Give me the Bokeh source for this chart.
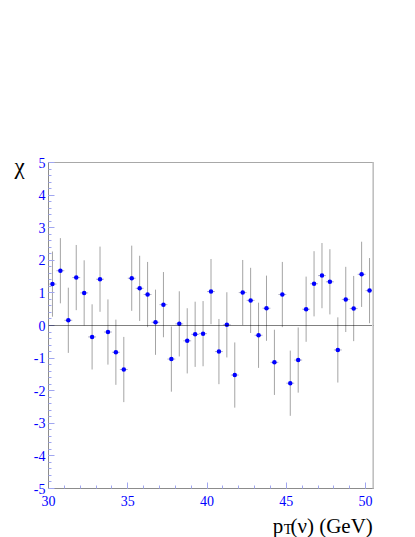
from bokeh.plotting import figure
from bokeh.models import Label, Span, FixedTicker, Range1d
from bokeh.embed import file_html
from bokeh.resources import INLINE

# bin centres (pT(nu), GeV)
x_vals = [30.25, 30.75, 31.25, 31.75, 32.25, 32.75, 33.25, 33.75, 34.25, 34.75,
          35.25, 35.75, 36.25, 36.75, 37.25, 37.75, 38.25, 38.75, 39.25, 39.75,
          40.25, 40.75, 41.25, 41.75, 42.25, 42.75, 43.25, 43.75, 44.25, 44.75,
          45.25, 45.75, 46.25, 46.75, 47.25, 47.75, 48.25, 48.75, 49.25, 49.75,
          50.25]
# chi values
chi_vals = [1.27, 1.68, 0.16, 1.47, 1.00, -0.35, 1.42, -0.20, -0.82, -1.35,
            1.45, 1.14, 0.95, 0.10, 0.64, -1.03, 0.05, -0.47, -0.27, -0.25,
            1.04, -0.80, 0.02, -1.52, 1.01, 0.77, -0.30, 0.53, -1.13, 0.95,
            -1.77, -1.06, 0.50, 1.28, 1.53, 1.34, -0.75, 0.80, 0.52, 1.57,
            1.07]
# errors
y_err = [1.0] * len(chi_vals)
x_half = [0.25] * len(x_vals)

x_ticks = [30, 35, 40, 45, 50]
x_tick_labels = ["30", "35", "40", "45", "50"]
y_ticks = [-5, -4, -3, -2, -1, 0, 1, 2, 3, 4, 5]
y_tick_labels = ["-5", "-4", "-3", "-2", "-1", "0", "1", "2", "3", "4", "5"]

W, H = 415, 537
p = figure(width=W, height=H, output_backend="svg", toolbar_location=None,
           x_range=Range1d(30, 50.5), y_range=Range1d(-5, 5),
           min_border_left=48, min_border_right=42, min_border_top=162,
           min_border_bottom=49)
p.grid.visible = False
p.background_fill_color = "white"
p.border_fill_color = "white"
p.outline_line_color = "#a8a8a8"
p.outline_line_width = 1

serif = "Liberation Serif"
tick_col = "#a0a6f0"

xa = p.xaxis[0]
xa.ticker = FixedTicker(ticks=x_ticks, minor_ticks=[float(v) for v in range(30, 51)])
xa.major_label_overrides = {t: l for t, l in zip(x_ticks, x_tick_labels)}
xa.major_tick_in = 6
xa.major_tick_out = 0
xa.minor_tick_in = 3
xa.minor_tick_out = 0
xa.major_tick_line_color = tick_col
xa.minor_tick_line_color = tick_col
xa.axis_line_color = "#8c8c8c"
xa.major_label_text_font = serif
xa.major_label_text_font_size = "14px"
xa.major_label_text_color = "#0000ff"
xa.major_label_standoff = 7

ya = p.yaxis[0]
ya.ticker = FixedTicker(ticks=y_ticks,
                        minor_ticks=[round(-5 + 0.2 * i, 1) for i in range(51)])
ya.major_label_overrides = {t: l for t, l in zip(y_ticks, y_tick_labels)}
ya.major_tick_in = 6
ya.major_tick_out = 0
ya.minor_tick_in = 3
ya.minor_tick_out = 0
ya.major_tick_line_color = tick_col
ya.minor_tick_line_color = tick_col
ya.axis_line_color = "#8c8c8c"
ya.major_label_text_font = serif
ya.major_label_text_font_size = "14px"
ya.major_label_text_color = "#0000ff"
ya.major_label_standoff = 3

# zero line
p.add_layout(Span(location=0, dimension="width", line_color="black",
                  line_dash="1 1", line_width=1))
# right frame shadow
p.add_layout(Span(location=50.5, dimension="height", line_color="#d8d8d8",
                  line_width=3))

y_lo = [v - e for v, e in zip(chi_vals, y_err)]
y_hi = [v + e for v, e in zip(chi_vals, y_err)]
x_lo = [x - h for x, h in zip(x_vals, x_half)]
x_hi = [x + h for x, h in zip(x_vals, x_half)]

p.segment(x0=x_vals, y0=y_lo, x1=x_vals, y1=y_hi, line_color="#a4a4a4", line_width=1)
p.segment(x0=x_lo, y0=chi_vals, x1=x_hi, y1=chi_vals, line_color="#b4b4c8", line_width=1)
p.scatter(x=x_vals, y=chi_vals, size=4.5, marker="circle",
          fill_color="#0000ff", line_color=None)

# Axis titles: placed in the (roomy) top side panel so they are not clipped
# to the frame; anchored through the plot's own scales.
p.add_layout(Label(x=27.86, y=4.877, text="χ",
                   text_font=serif, text_font_size="23px", text_color="black",
                   text_baseline="alphabetic", text_align="left"), "above")
p.add_layout(Label(x=44.15, y=-6.165, text="p",
                   text_font=serif, text_font_size="21px", text_color="black",
                   text_baseline="alphabetic", text_align="left"), "above")
p.add_layout(Label(x=44.84, y=-6.26, text="T",
                   text_font=serif, text_font_size="14px", text_color="black",
                   text_baseline="alphabetic", text_align="left"), "above")
p.add_layout(Label(x=50.455, y=-6.165, text="(ν) (GeV)",
                   text_font=serif, text_font_size="21px", text_color="black",
                   text_baseline="alphabetic", text_align="right"), "above")

open("out.html", "w").write(file_html(p, INLINE))
